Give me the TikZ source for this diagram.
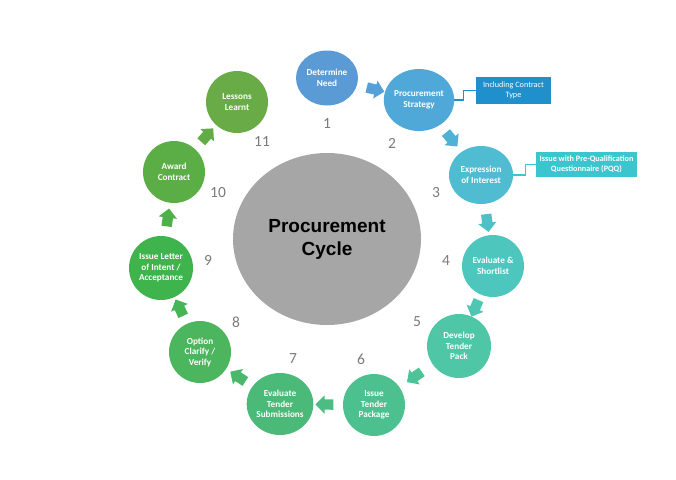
\documentclass[tikz,border=0pt]{standalone}
\usepackage{fontspec}
\setmainfont{Carlito}
\newfontfamily\titlefont{Liberation Sans}
\usepackage{tikz}
\usetikzlibrary{shapes.geometric, shapes.arrows, calc}

\definecolor{cNeed}{HTML}{5B9BD5}
\definecolor{cStrat}{HTML}{4FA8D8}
\definecolor{cInterest}{HTML}{4FBCD1}
\definecolor{cShort}{HTML}{4DC6BE}
\definecolor{cDevelop}{HTML}{4FC6A6}
\definecolor{cIssue}{HTML}{4CC08F}
\definecolor{cSubs}{HTML}{4BB977}
\definecolor{cOption}{HTML}{4BB65E}
\definecolor{cLetter}{HTML}{3FB34C}
\definecolor{cAward}{HTML}{5BAD45}
\definecolor{cLessons}{HTML}{69AB46}
\definecolor{cNoteA}{HTML}{2090CC}
\definecolor{cNoteB}{HTML}{3BC5CF}
\definecolor{cHub}{HTML}{A6A6A6}
\definecolor{cNum}{HTML}{7A7A7A}

\begin{document}
\begin{tikzpicture}[
    x=1pt, y=-1pt,
    stage/.style={ellipse, draw=none, fill=#1, text=white, align=center,
                  inner sep=0pt, minimum width=62pt, minimum height=62pt,
                  font=\fontsize{9.2}{10.5}\selectfont\bfseries},
    num/.style={text=cNum, font=\fontsize{15.5}{15.5}\selectfont},
    note/.style={rectangle, fill=#1, text=white, align=center, inner sep=0pt,
                 font=\fontsize{8.2}{10}\selectfont},
    link/.style={line width=1.3pt, draw=#1},
    blk/.style={single arrow, draw=none, fill=#1, minimum height=18pt,
                inner sep=5pt, single arrow head extend=4pt},
]
    \useasboundingbox (0,0) rectangle (676,479);

    % Hub
    \node[ellipse, fill=cHub, minimum width=188pt, minimum height=172pt, align=center,
          font=\titlefont\fontsize{19}{23}\selectfont\bfseries] (hub) at (327,239)
          {Procurement\\Cycle};

    % Stages
    \node[stage=cNeed, minimum height=55pt] (need) at (327,78) {Determine\\Need};
    \node[stage=cStrat, minimum width=68pt] (strategy) at (419,100) {Procurement\\Strategy};
    \node[stage=cInterest, minimum width=64pt, minimum height=58pt] (interest) at (481,175) {Expression\\of Interest};
    \node[stage=cShort] (shortlist) at (493,266) {Evaluate \&\\Shortlist};
    \node[stage=cDevelop, minimum width=64pt, minimum height=64pt] (develop) at (459,346) {Develop\\Tender\\Pack};
    \node[stage=cIssue] (issue) at (374,405) {Issue\\Tender\\Package};
    \node[stage=cSubs, minimum width=66pt] (submissions) at (280,404) {Evaluate\\Tender\\Submissions};
    \node[stage=cOption] (option) at (200,352) {Option\\Clarify /\\Verify};
    \node[stage=cLetter, minimum width=64pt, minimum height=64pt] (letter) at (161,268) {Issue Letter\\of Intent /\\Acceptance};
    \node[stage=cAward] (award) at (174,172) {Award\\Contract};
    \node[stage=cLessons] (lessons) at (237,102) {Lessons\\Learnt};

    % Numbers
    \node[num] (n1) at (327,124) {1};
    \node[num] (n2) at (392,143) {2};
    \node[num] (n3) at (436,193) {3};
    \node[num] (n4) at (446,261) {4};
    \node[num] (n5) at (417,322) {5};
    \node[num] (n6) at (361,359) {6};
    \node[num] (n7) at (293,359) {7};
    \node[num] (n8) at (236,322) {8};
    \node[num] (n9) at (208,260) {9};
    \node[num] (n10) at (218,193) {10};
    \node[num] (n11) at (262,142) {11};

    % Arrows
    \path let \p1=($(strategy)-(need)$), \n1={atan2(\y1,\x1)} in
        node[blk=cNeed!50!cStrat, rotate=\n1] (a1) at ($(need)!0.5!(strategy)$) {};
    \path let \p1=($(interest)-(strategy)$), \n1={atan2(\y1,\x1)} in
        node[blk=cStrat!50!cInterest, rotate=\n1] (a2) at ($(strategy)!0.5!(interest)$) {};
    \path let \p1=($(shortlist)-(interest)$), \n1={atan2(\y1,\x1)} in
        node[blk=cInterest!50!cShort, rotate=\n1] (a3) at ($(interest)!0.5!(shortlist)$) {};
    \path let \p1=($(develop)-(shortlist)$), \n1={atan2(\y1,\x1)} in
        node[blk=cShort!50!cDevelop, rotate=\n1] (a4) at ($(shortlist)!0.5!(develop)$) {};
    \path let \p1=($(issue)-(develop)$), \n1={atan2(\y1,\x1)} in
        node[blk=cDevelop!50!cIssue, rotate=\n1] (a5) at ($(develop)!0.5!(issue)$) {};
    \path let \p1=($(submissions)-(issue)$), \n1={atan2(\y1,\x1)} in
        node[blk=cIssue!50!cSubs, rotate=\n1] (a6) at ($(issue)!0.5!(submissions)$) {};
    \path let \p1=($(option)-(submissions)$), \n1={atan2(\y1,\x1)} in
        node[blk=cSubs!50!cOption, rotate=\n1] (a7) at ($(submissions)!0.5!(option)$) {};
    \path let \p1=($(letter)-(option)$), \n1={atan2(\y1,\x1)} in
        node[blk=cOption!50!cLetter, rotate=\n1] (a8) at ($(option)!0.5!(letter)$) {};
    \path let \p1=($(award)-(letter)$), \n1={atan2(\y1,\x1)} in
        node[blk=cLetter!50!cAward, rotate=\n1] (a9) at ($(letter)!0.5!(award)$) {};
    \path let \p1=($(lessons)-(award)$), \n1={atan2(\y1,\x1)} in
        node[blk=cAward!50!cLessons, rotate=\n1] (a10) at ($(award)!0.5!(lessons)$) {};

    % Notes
    \node[note=cNoteA, minimum width=75pt, minimum height=27pt] (contract) at (513.5,90.5)
        {Including Contract\\Type};
    \node[note=cNoteB, minimum width=101pt, minimum height=25pt,
          font=\fontsize{8.2}{10}\selectfont\bfseries] (pqq) at (586.5,164.5)
        {Issue with Pre-Qualification\\Questionnaire (PQQ)};

    \draw[link=cNoteA] (strategy.east) -- ++(9,0) |- (contract.west);
    \draw[link=cNoteB] (interest.east) -- ++(12,0) |- (pqq.west);

\end{tikzpicture}
\end{document}
